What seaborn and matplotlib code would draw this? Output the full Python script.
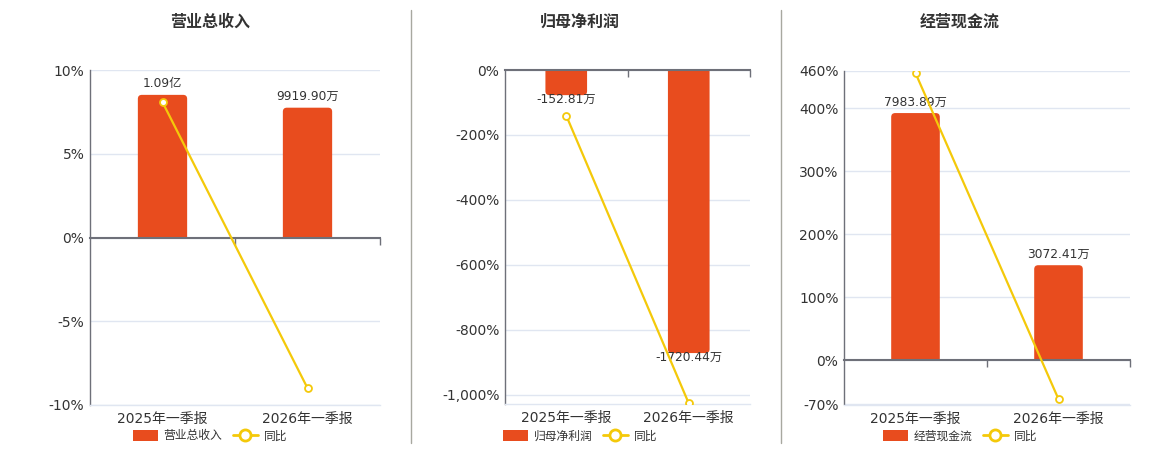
import matplotlib
matplotlib.use("Agg")
import matplotlib.pyplot as plt
import seaborn as sns
import pandas as pd
from matplotlib.patches import PathPatch, Patch
from matplotlib.path import Path
from matplotlib.lines import Line2D
from matplotlib.ticker import FixedLocator, FuncFormatter

# ---- data (values in 万, yoy in %) ----
periods = ["2025年一季报", "2026年一季报"]

revenue = [10900.0, 9919.90]
revenue_labels = ["1.09亿", "9919.90万"]
revenue_yoy = [8.08, -8.99]

profit = [-152.81, -1720.44]
profit_labels = ["-152.81万", "-1720.44万"]
profit_yoy = [-140.3, -1025.9]

cashflow = [7983.89, 3072.41]
cashflow_labels = ["7983.89万", "3072.41万"]
cashflow_yoy = [455.9, -61.5]

BAR = "#E84C1E"
LINE = "#F4C90A"
AXIS = "#6E7079"
GRID = "#E0E6F1"
TEXT = "#333333"

sns.set_theme(style="white")
plt.rcParams['font.family'] = ['DejaVu Sans', 'Noto Sans CJK SC']
plt.rcParams['axes.unicode_minus'] = False

W, H = 1160, 450
fig = plt.figure(figsize=(W / 100, H / 100), dpi=100)


def fig_box(x0, x1, y0, y1):
    return [x0 / W, 1 - y1 / H, (x1 - x0) / W, (y1 - y0) / H]


def round_bars(ax, radius=4):
    """swap seaborn's rectangles for bars rounded only at the far end"""
    bbox = ax.get_window_extent()
    xl, yl = ax.get_xlim(), ax.get_ylim()
    rx = radius * (xl[1] - xl[0]) / bbox.width
    ry = radius * (yl[1] - yl[0]) / bbox.height
    for p in list(ax.patches):
        x0, b, w, h = p.get_x(), p.get_y(), p.get_width(), p.get_height()
        x1, e = x0 + w, b + h
        s = 1 if h >= 0 else -1
        verts = [(x0, b), (x0, e - s * ry), (x0, e), (x0 + rx, e),
                 (x1 - rx, e), (x1, e), (x1, e - s * ry), (x1, b), (x0, b)]
        codes = [Path.MOVETO, Path.LINETO, Path.CURVE3, Path.CURVE3,
                 Path.LINETO, Path.CURVE3, Path.CURVE3, Path.LINETO, Path.CLOSEPOLY]
        color = p.get_facecolor()
        p.remove()
        ax.add_patch(PathPatch(Path(verts, codes), facecolor=color,
                               edgecolor="none", zorder=1))


panels = [
    dict(box=(90, 380, 70, 405), vals=revenue, labels=revenue_labels, yoy=revenue_yoy,
         pct_lim=(-10, 10), bar_lim=(-12800, 12800), ticks=[-10, -5, 0, 5, 10],
         center=210, name="营业总收入"),
    dict(box=(505, 750, 70, 404), vals=profit, labels=profit_labels, yoy=profit_yoy,
         pct_lim=(-1028, 0), bar_lim=(-2030, 0), ticks=[-1000, -800, -600, -400, -200, 0],
         center=580, name="归母净利润"),
    dict(box=(844, 1130, 70.5, 404.5), vals=cashflow, labels=cashflow_labels, yoy=cashflow_yoy,
         pct_lim=(-70, 460), bar_lim=(-1424, 9358), ticks=[-70, 0, 100, 200, 300, 400, 460],
         center=960, name="经营现金流"),
]

for cfg in panels:
    ax = fig.add_axes(fig_box(*cfg["box"]))
    ax_bar = ax.twinx()
    ax_line = ax.twinx()

    df = pd.DataFrame({"period": periods, "value": cfg["vals"], "yoy": cfg["yoy"]})

    sns.barplot(data=df, x="period", y="value", ax=ax_bar, color=BAR,
                saturation=1, width=0.34, zorder=1)
    sns.lineplot(data=df, x="period", y="yoy", ax=ax_line, color=LINE, lw=1.6,
                 marker="o", markersize=5, markerfacecolor="white",
                 markeredgecolor=LINE, markeredgewidth=1.3, zorder=5)

    for a in (ax, ax_bar, ax_line):
        a.set_xlim(-0.5, 1.5)
        a.set_xlabel("")
        a.set_ylabel("")
    ax.set_ylim(*cfg["pct_lim"])
    ax_line.set_ylim(*cfg["pct_lim"])
    ax_bar.set_ylim(*cfg["bar_lim"])

    # percent axis (left)
    ax.set_facecolor("white")
    ax.yaxis.set_major_locator(FixedLocator(cfg["ticks"]))
    ax.yaxis.set_major_formatter(FuncFormatter(lambda v, _: f"{v:,.0f}%"))
    ax.grid(axis="y", color=GRID, lw=1)
    ax.grid(axis="x", visible=False)
    for s in ("top", "right"):
        ax.spines[s].set_visible(False)
    ax.spines["left"].set_color(AXIS)
    ax.spines["left"].set_linewidth(1)
    ax.spines["bottom"].set_color(GRID)
    ax.spines["bottom"].set_linewidth(1)
    ax.tick_params(axis="y", length=0, pad=4, labelsize=10, labelcolor=TEXT)
    ax.tick_params(axis="x", which="both", length=0, pad=5, labelsize=10, labelcolor=TEXT)

    # bar axis: hidden y, zero line with category boundary ticks
    ax_bar.xaxis.set_visible(True)
    ax_bar.xaxis.set_minor_locator(FixedLocator([0.5, 1.5]))
    ax_bar.yaxis.set_visible(False)
    for s in ("top", "right", "left"):
        ax_bar.spines[s].set_visible(False)
    ax_bar.spines["bottom"].set_position(("data", 0))
    ax_bar.spines["bottom"].set_color(AXIS)
    ax_bar.spines["bottom"].set_linewidth(1.5)
    ax_bar.tick_params(axis="x", which="major", bottom=False, length=0, labelbottom=False)
    ax_bar.tick_params(axis="x", which="minor", bottom=True, length=5, width=1, color=AXIS,
                       direction="out", labelbottom=False)
    ax.tick_params(axis="x", which="minor", bottom=False, length=0)

    ax_line.yaxis.set_visible(False)
    for s in ax_line.spines.values():
        s.set_visible(False)

    # value labels
    for p, lab in zip(ax_bar.patches, cfg["labels"]):
        xc = p.get_x() + p.get_width() / 2
        end = p.get_y() + p.get_height()
        dy = 8 if p.get_height() >= 0 else -3
        ax_bar.annotate(lab, (xc, end), xytext=(0, dy), textcoords="offset points",
                        ha="center", va="center", fontsize=8.8, color=TEXT)

    round_bars(ax_bar)

    fig.text(cfg["center"] / W, 1 - 22 / H, cfg["name"], ha="center", va="center",
             fontsize=11.5, fontweight="bold", color=TEXT)

    handles = [Patch(facecolor=BAR, edgecolor="none"),
               Line2D([], [], color=LINE, lw=2, marker="o", markersize=8,
                      markerfacecolor="white", markeredgecolor=LINE, markeredgewidth=2)]
    fig.legend(handles, [cfg["name"], "同比"], loc="center",
               bbox_to_anchor=(cfg["center"] / W, 1 - 436 / H), ncol=2, frameon=False,
               fontsize=8.5, handlelength=2.1, handleheight=1.1, handletextpad=0.5,
               columnspacing=0.9, labelcolor=TEXT)

# separators between panels
for xs in (410.5, 780.5):
    fig.add_artist(Line2D([xs / W, xs / W], [1 - 10 / H, 1 - 443 / H],
                          color="#A8A8A0", lw=1))

fig.savefig("out.png", dpi=100, facecolor="white")
